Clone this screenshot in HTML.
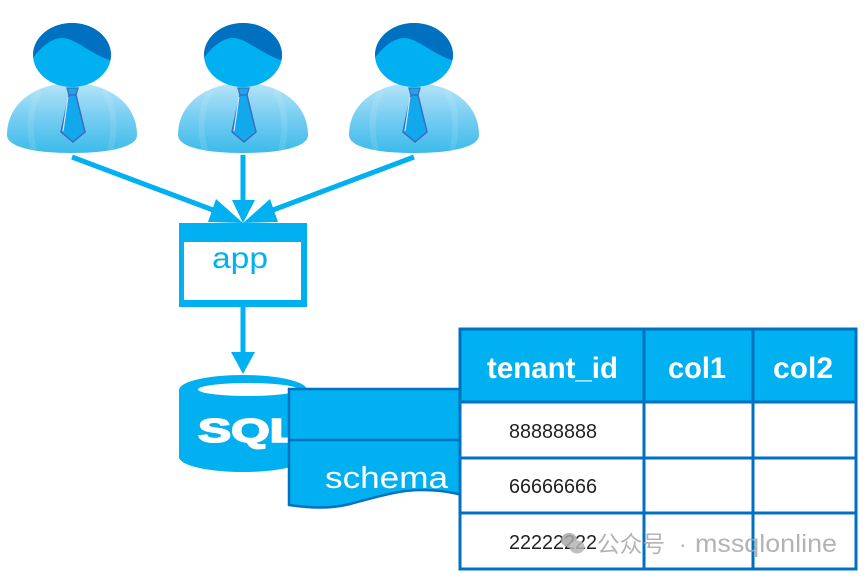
<!DOCTYPE html>
<html>
<head>
<meta charset="utf-8">
<style>
html,body{margin:0;padding:0;background:#fff;}
svg{display:block;}
</style>
</head>
<body>
<svg width="865" height="578" viewBox="0 0 865 578" xmlns="http://www.w3.org/2000/svg">
<defs>
  <linearGradient id="bodyg" x1="0" y1="0" x2="0" y2="1">
    <stop offset="0" stop-color="#b5e4f8"/>
    <stop offset="0.45" stop-color="#7ccff2"/>
    <stop offset="1" stop-color="#3bbbea"/>
  </linearGradient>
  <clipPath id="headclip"><ellipse cx="72" cy="55" rx="39" ry="32"/></clipPath>
  <g id="person">
    <path d="M7,135 C7,103 36,83 72,83 C108,83 137,103 137,135 C137,147 110,153 72,153 C34,153 7,147 7,135 Z" fill="url(#bodyg)"/>
    <path d="M40,90 C30,105 28,130 34,150" stroke="#ffffff" stroke-opacity="0.1" stroke-width="6" fill="none"/>
    <path d="M104,90 C114,105 116,130 110,150" stroke="#ffffff" stroke-opacity="0.1" stroke-width="6" fill="none"/>
    <ellipse cx="72" cy="55" rx="39" ry="32" fill="#00b0f0"/>
    <path d="M30,62 C38,50 50,38 62,38 C76,38 92,56 116,62 L116,15 L30,15 Z" fill="#0070c0" clip-path="url(#headclip)"/>
    <polygon points="67,88 78,88 76,95 69,95" fill="#1aa8e8" stroke="#3d6cc0" stroke-width="1.3"/>
    <polygon points="69,95 76,95 85,132 73,142 61,132" fill="#12a9ec" stroke="#3d6cc0" stroke-width="1.5"/>
    <path d="M68,97 L63,131" stroke="#cfe8fb" stroke-width="1.2"/>
  </g>
</defs>

<!-- people -->
<use href="#person" x="0" y="0"/>
<use href="#person" x="171" y="0"/>
<use href="#person" x="342" y="0"/>

<!-- arrows to app -->
<g stroke="#00b0f0" stroke-width="5" fill="none">
  <line x1="72" y1="157" x2="221" y2="213"/>
  <line x1="243" y1="155" x2="243" y2="200"/>
  <line x1="414" y1="157" x2="265" y2="213"/>
  <line x1="243" y1="306" x2="243" y2="354"/>
</g>
<g fill="#00b0f0">
  <polygon points="232,200 255,200 243,223"/>
  <polygon points="216,199 208,222 243,223"/>
  <polygon points="270,199 278,222 243,223"/>
  <polygon points="231,352 255,352 243,374"/>
</g>

<!-- app box -->
<rect x="179" y="223" width="128" height="84" fill="#00b0f0"/>
<rect x="184" y="242" width="117" height="58" fill="#ffffff"/>
<text x="212" y="268" font-family="Liberation Sans, sans-serif" font-size="30" fill="#00b0f0" textLength="56" lengthAdjust="spacingAndGlyphs">app</text>

<!-- SQL cylinder -->
<path d="M179,390 L179,457 A64,15 0 0 0 307,457 L307,390 A64,15 0 0 0 179,390 Z" fill="#00b0f0"/>
<ellipse cx="248" cy="389.5" rx="50" ry="6.5" fill="#ffffff"/>
<text x="198" y="442" font-family="Liberation Sans, sans-serif" font-weight="bold" font-size="33" fill="#ffffff" stroke="#ffffff" stroke-width="1.6" textLength="102" lengthAdjust="spacingAndGlyphs">SQL</text>

<!-- schema shape -->
<path d="M289,389 L462,389 L462,495 C450,492 440,490 420,490 C400,490 380,496 350,504 C330,509 310,508 289,505 Z" fill="#00b0f0" stroke="#0070c0" stroke-width="2.5"/>
<line x1="289" y1="440" x2="462" y2="440" stroke="#0070c0" stroke-width="2.5"/>
<text x="325" y="488" font-family="Liberation Sans, sans-serif" font-size="31" fill="#ffffff" textLength="123" lengthAdjust="spacingAndGlyphs">schema</text>

<!-- table -->
<rect x="460" y="329" width="396" height="240" fill="#ffffff"/>
<rect x="460" y="329" width="396" height="73" fill="#00b0f0"/>
<g stroke="#0070c0" stroke-width="3" fill="none">
  <rect x="460" y="329" width="396" height="240"/>
  <line x1="644" y1="329" x2="644" y2="569"/>
  <line x1="753" y1="329" x2="753" y2="569"/>
  <line x1="460" y1="402" x2="856" y2="402"/>
  <line x1="460" y1="458" x2="856" y2="458"/>
  <line x1="460" y1="513" x2="856" y2="513"/>
</g>
<g font-family="Liberation Sans, sans-serif" font-weight="bold" font-size="30" fill="#ffffff">
  <text x="487" y="378" textLength="131" lengthAdjust="spacingAndGlyphs">tenant_id</text>
  <text x="668" y="378" textLength="58" lengthAdjust="spacingAndGlyphs">col1</text>
  <text x="773" y="378" textLength="60" lengthAdjust="spacingAndGlyphs">col2</text>
</g>
<g font-family="Liberation Sans, sans-serif" font-size="20" fill="#222222">
  <text x="509" y="438" textLength="88" lengthAdjust="spacingAndGlyphs">88888888</text>
  <text x="509" y="493" textLength="88" lengthAdjust="spacingAndGlyphs">66666666</text>
  <text x="509" y="549" textLength="88" lengthAdjust="spacingAndGlyphs">22222222</text>
</g>

<!-- watermark -->
<g opacity="0.85">
  <ellipse cx="569" cy="540" rx="8" ry="7" fill="#a8a8a8"/>
  <ellipse cx="577" cy="547" rx="7.5" ry="6.5" fill="#b5b5b5"/>
  <text x="597" y="552" font-family="Liberation Sans, 'Noto Sans CJK SC', sans-serif" font-size="23" fill="#a6a6a6" textLength="68" lengthAdjust="spacingAndGlyphs">公众号</text>
  <text x="679" y="552" font-family="Liberation Sans, sans-serif" font-size="23" fill="#a6a6a6">·</text>
  <text x="695" y="552" font-family="Liberation Sans, sans-serif" font-size="25" fill="#a6a6a6" textLength="142" lengthAdjust="spacingAndGlyphs">mssqlonline</text>
</g>
</svg>
</body>
</html>
